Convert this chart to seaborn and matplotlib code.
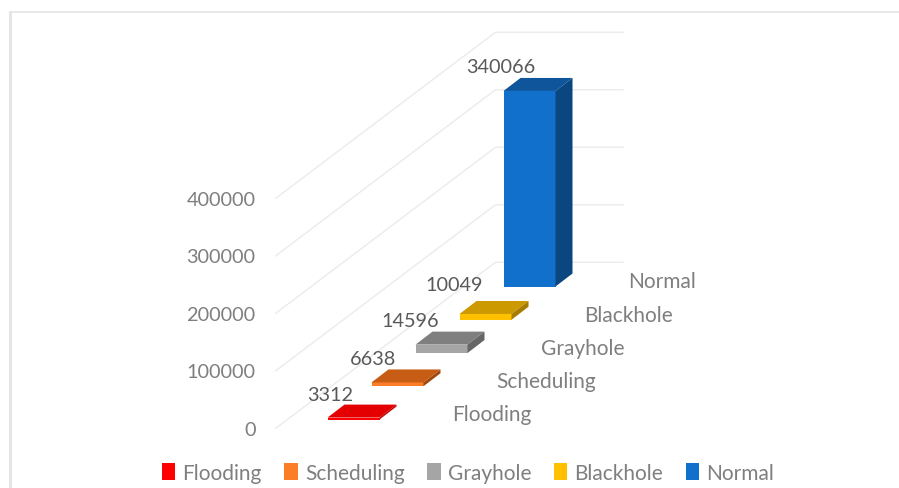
import matplotlib
matplotlib.use("Agg")
import matplotlib.pyplot as plt
import pandas as pd
import seaborn as sns
from matplotlib.lines import Line2D
from matplotlib.patches import Polygon
from matplotlib.transforms import Affine2D, IdentityTransform

attacks = ["Flooding", "Scheduling", "Grayhole", "Blackhole", "Normal"]
records = [3312, 6638, 14596, 10049, 340066]
axis_ticks = [0, 100000, 200000, 300000, 400000]

front_colors = ["#FF0000", "#FB7D27", "#A5A5A5", "#FFC000", "#1170CB"]
top_colors = ["#E40000", "#C75D14", "#7F7F7F", "#CC9A00", "#0F559B"]
side_colors = ["#C00000", "#A04A10", "#666666", "#A67C00", "#0A4680"]

# Oblique projection, in pixels at 100 dpi
STEP_X = 44.0        # sideways shift between neighbouring categories
STEP_Y = 33.25       # upward shift between neighbouring categories
BAR_W = 52.0
DEPTH_X, DEPTH_Y = 17.0, 13.0
FIRST_BAR_X = 353.5
FIRST_BASE_UP = 68.5
FLOOR_DROP = 9.0     # the floor's front edge sits this far below the first bar's base
PX_PER_UNIT = 57.5e-5
W, H = 899, 489

# Fine placement of value labels relative to the bar's front-top edge
value_nudge = [(0, 23), (-1, 24), (-3, 24), (-3, 29), (6, 24)]

sns.set_theme(style="white")
plt.rcParams["font.family"] = ["Lato", "DejaVu Sans"]

fig = plt.figure(figsize=(W / 100, H / 100), dpi=100, facecolor="white")
ax = fig.add_axes([0, 0, 1, 1])

df = pd.DataFrame({"Attack": attacks, "Records": records})
sns.barplot(data=df, x="Attack", y="Records", hue="Attack", hue_order=attacks,
            palette=front_colors, saturation=1, width=BAR_W / STEP_X,
            dodge=False, legend=True, ax=ax, zorder=3, edgecolor="none", linewidth=0)

ax.set_xlim(-FIRST_BAR_X / STEP_X, (W - FIRST_BAR_X) / STEP_X)
ax.set_ylim(-FIRST_BASE_UP / PX_PER_UNIT, (H - FIRST_BASE_UP) / PX_PER_UNIT)
ax.set_xlabel("")
ax.set_ylabel("")
ax.set_xticks([])
ax.set_yticks([])
for spine in ax.spines.values():
    spine.set_visible(False)

# Floor and back-wall gridlines: along the depth over five categories, then across
for tick in axis_ticks:
    x0, y0 = ax.transData.transform((-78 / STEP_X, tick))
    y0 -= FLOOR_DROP
    xs = [x0, x0 + 5 * STEP_X, x0 + 5 * STEP_X + 128]
    ys = [y0, y0 + 5 * STEP_Y, y0 + 5 * STEP_Y]
    ax.add_line(Line2D(xs, ys, transform=IdentityTransform(), color="#EBEBEB",
                       lw=1.0, zorder=1))
    ax.annotate(f"{tick}", xy=(-78 / STEP_X, tick), xytext=(-20, -1 - FLOOR_DROP),
                textcoords="offset pixels", ha="right", va="center",
                fontsize=14.3, color="#7F7F7F")

# Shift each front face back along the floor, then add its top and side faces
bars = [c[0] for c in ax.containers]
for i, bar in enumerate(bars):
    shift = STEP_Y * i
    bar.set_transform(ax.transData + Affine2D().translate(0, shift))
    bar.set_clip_on(False)
    left = bar.get_x()
    right = left + bar.get_width()
    height = bar.get_height()
    (xl, yb) = ax.transData.transform((left, 0))
    (xr, yt) = ax.transData.transform((right, height))
    yb += shift
    yt += shift
    ax.add_patch(Polygon([(xl, yt), (xr, yt), (xr + DEPTH_X, yt + DEPTH_Y),
                          (xl + DEPTH_X, yt + DEPTH_Y)], closed=True,
                         transform=IdentityTransform(), facecolor=top_colors[i],
                         edgecolor="none", zorder=3))
    ax.add_patch(Polygon([(xr, yb), (xr + DEPTH_X, yb + DEPTH_Y),
                          (xr + DEPTH_X, yt + DEPTH_Y), (xr, yt)], closed=True,
                         transform=IdentityTransform(), facecolor=side_colors[i],
                         edgecolor="none", zorder=3))

    dx, dy = value_nudge[i]
    ax.annotate(f"{records[i]}", xy=(i, records[i]),
                xytext=(dx, shift + dy), textcoords="offset pixels",
                ha="right", va="center", fontsize=14.3, color="#595959", zorder=5)
    ax.annotate(attacks[i], xy=(i, 0), xytext=(99, shift + 5),
                textcoords="offset pixels", ha="left", va="center",
                fontsize=15, color="#7F7F7F", zorder=5)

sns.move_legend(ax, "center", bbox_to_anchor=(468 / W, 1 - 474 / H), ncols=5,
                frameon=False, title=None, fontsize=15, handlelength=0.65,
                handleheight=0.85, handletextpad=0.34, columnspacing=1.08,
                labelcolor="#7F7F7F")

# Thin frame along the top and left edges
fig.add_artist(Line2D([10 / W, 1], [1 - 12.5 / H] * 2, color="#E4E4E4", lw=1.2,
                      transform=fig.transFigure))
fig.add_artist(Line2D([10 / W] * 2, [0, 1 - 12.5 / H], color="#E4E4E4", lw=2.0,
                      transform=fig.transFigure))

fig.savefig("out.png", dpi=100, facecolor="white")
